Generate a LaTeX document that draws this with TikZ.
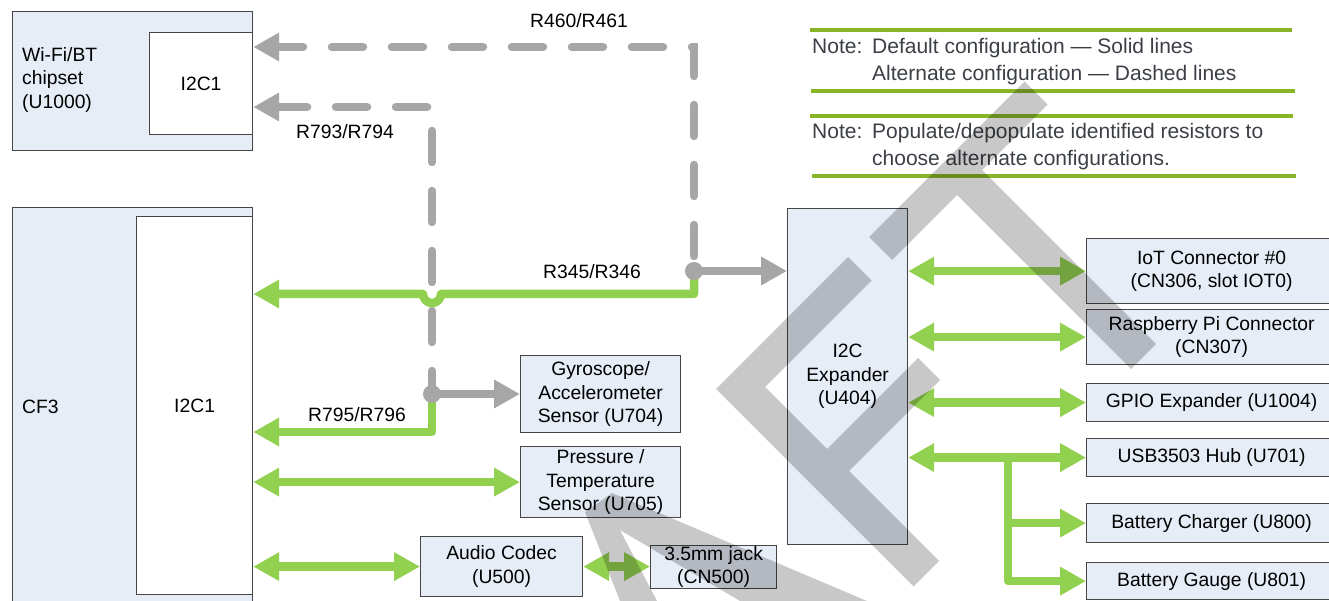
\documentclass[tikz,border=0pt]{standalone}
\usepackage{fontspec}
\setmainfont{Liberation Sans}
\usetikzlibrary{arrows.meta}
\definecolor{boxfill}{RGB}{230,237,247}
\definecolor{boxdraw}{RGB}{70,70,70}
\definecolor{lgreen}{RGB}{146,208,80}
\definecolor{lgray}{RGB}{166,166,166}
\definecolor{olivegreen}{RGB}{136,180,40}
\definecolor{notecol}{RGB}{60,64,70}
\begin{document}
\begin{tikzpicture}[x=1pt,y=-1pt,
  >={Triangle[length=26pt,width=27pt]},
  box/.style={draw=boxdraw, fill=boxfill, line width=1.2pt, inner sep=0pt, anchor=north west, align=center, font=\fontsize{19.3}{23.5}\selectfont},
  wbox/.style={box, fill=white},
  txt/.style={inner sep=0pt, align=left, font=\fontsize{19.3}{23.5}\selectfont},
  lbl/.style={inner sep=0pt, font=\fontsize{19.3}{23.5}\selectfont},
  notetxt/.style={inner sep=0pt, text=notecol, font=\fontsize{21}{27}\selectfont},
  noteline/.style={draw=olivegreen, line width=4.5pt},
  garrow/.style={draw=lgreen, line width=8.5pt, line join=round, ->},
  gdbl/.style={draw=lgreen, line width=8.5pt, <->},
  grarrow/.style={draw=lgray, line width=8.5pt, ->},
  dashg/.style={draw=lgray, line width=8.5pt, line cap=round, dash pattern=on 31pt off 29pt, ->},
  dot/.style={circle, fill=lgray, minimum size=18pt, inner sep=0pt},
  wmark/.style={fill=black, fill opacity=0.215}
]
\useasboundingbox (0,0) rectangle (1329,601);
\fill[white] (0,0) rectangle (1329,601);

% helper coordinates
\coordinate (y47) at (0,47);
\coordinate (y107) at (0,107);
\coordinate (y294) at (0,294);
\coordinate (y432) at (0,432);

% blocks
\node[box, minimum width=240pt, minimum height=139pt] (wifi) at (12,11) {};
\node[txt, anchor=west] (wifitext) at (22,80) {Wi-Fi/BT\\chipset\\(U1000)};
\node[wbox, minimum width=103pt, minimum height=102pt] (wi2c) at (149,32) {I2C1};

\node[box, minimum width=240pt, minimum height=420pt] (cf3) at (12,207) {};
\node[txt, anchor=west] (cf3text) at (22,407) {CF3};
\node[wbox, minimum width=116pt, minimum height=378pt] (ci2c) at (136,216) {I2C1};

\node[box, minimum width=160pt, minimum height=77pt] (gyro) at (520,355) {Gyroscope/\\Accelerometer\\Sensor (U704)};
\node[box, minimum width=160pt, minimum height=71pt] (press) at (520,446) {Pressure /\\Temperature\\Sensor (U705)};
\node[box, minimum width=162pt, minimum height=60pt] (codec) at (420,536) {Audio Codec\\(U500)};
\node[box, minimum width=126pt, minimum height=43pt] (jack) at (650,545) {3.5mm jack\\(CN500)};

\node[box, minimum width=120pt, minimum height=336pt] (exp) at (787,208) {I2C\\Expander\\(U404)};

\node[box, minimum width=250pt, minimum height=65pt] (iot) at (1086,238) {IoT Connector \#0\\(CN306, slot IOT0)};
\node[box, minimum width=250pt, minimum height=55pt] (rpi) at (1086,309) {Raspberry Pi Connector\\(CN307)};
\node[box, minimum width=250pt, minimum height=38pt] (gpio) at (1086,383) {GPIO Expander (U1004)};
\node[box, minimum width=250pt, minimum height=38pt] (usb) at (1086,438) {USB3503 Hub (U701)};
\node[box, minimum width=250pt, minimum height=39pt] (chg) at (1086,503) {Battery Charger (U800)};
\node[box, minimum width=250pt, minimum height=37pt] (gauge) at (1086,562) {Battery Gauge (U801)};

% junctions
\coordinate (j1) at (694,271);
\coordinate (j2) at (432,394);

% alternate (dashed) connections
\draw[dashg, dash phase=45pt] (j1) -- (694,47) -- (wi2c.east |- y47);
\draw[dashg, dash phase=8pt] (j2) -- (432,107) -- (wi2c.east |- y107);

% default (solid) connections
\draw[garrow] (j1) -- (694,294) -- (441,294) arc[start angle=0, end angle=-180, radius=9pt] -- (ci2c.east |- y294);
\draw[garrow] (j2) -- (432,432) -- (ci2c.east |- y432);
\draw[grarrow] (j1) -- (j1 -| exp.west);
\draw[grarrow] (j2) -- (j2 -| gyro.west);
\node[dot] (d1) at (j1) {};
\node[dot] (d2) at (j2) {};

\draw[gdbl] (press.west -| ci2c.east) -- (press.west);
\draw[gdbl] (codec.west -| ci2c.east) -- (codec.west);
\draw[gdbl] (codec.east) -- (codec.east -| jack.west);

\draw[gdbl] (iot.west -| exp.east) -- (iot.west);
\draw[gdbl] (rpi.west -| exp.east) -- (rpi.west);
\draw[gdbl] (gpio.west -| exp.east) -- (gpio.west);
\draw[gdbl] (usb.west -| exp.east) -- (usb.west);
\coordinate (br) at (1008,457);
\draw[garrow] (br) -- (br |- gauge.west) -- (gauge.west);
\draw[garrow] (br |- chg.west) -- (chg.west);

% labels
\node[lbl] (l1) at (579,21) {R460/R461};
\node[lbl] (l2) at (345,132) {R793/R794};
\node[lbl] (l3) at (592,272) {R345/R346};
\node[lbl] (l4) at (357,415) {R795/R796};

% notes
\draw[noteline] (810,30) -- (1292,30);
\draw[noteline] (811,91) -- (1295,91);
\draw[noteline] (810,116) -- (1293,116);
\draw[noteline] (812,176) -- (1296,176);
\node[notetxt, anchor=west] (note1) at (812,61.5) {\begin{tabular}{@{}p{60pt}@{}l@{}}Note: & Default configuration — Solid lines\\ & Alternate configuration — Dashed lines\end{tabular}};
\node[notetxt, anchor=west] (note2) at (812,146.5) {\begin{tabular}{@{}p{60pt}@{}l@{}}Note: & Populate/depopulate identified resistors to\\ & choose alternate configurations.\end{tabular}};

% watermark
\fill[wmark] (869,237) -- (1024.5,81.5) -- (1047.5,104.5) -- (982,170) -- (1156,344) -- (1131,369) -- (957,195) -- (892,260) -- cycle;
\fill[wmark] (716,389) -- (848,257) -- (871.5,280.5) -- (765,387) -- (827,449) -- (918,358) -- (940,380) -- (849,471) -- (939,561) -- (913.5,586.5) -- cycle;
\fill[wmark] (585,512) -- (612,493) -- (867,601) -- (740,601) -- (620,530) -- (657,601) -- (620,601) -- cycle;
\end{tikzpicture}
\end{document}
